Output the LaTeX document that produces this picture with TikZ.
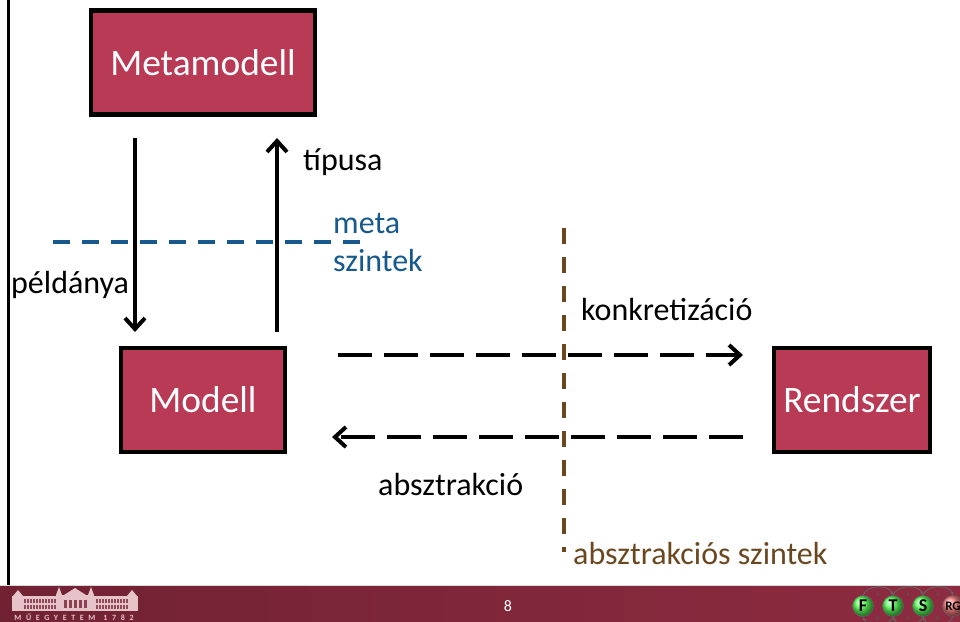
\documentclass[tikz,border=0pt]{standalone}
\usepackage{fontspec}
\setmainfont{Carlito}
\usetikzlibrary{arrows.meta}
\definecolor{boxred}{HTML}{B83A55}
\definecolor{barleft}{HTML}{702233}
\definecolor{barright}{HTML}{8E2B41}
\definecolor{levelblue}{HTML}{17598C}
\definecolor{levelbrown}{HTML}{6B4720}
\definecolor{logopink}{HTML}{E6C3C8}
\tikzset{
  levelbox/.style={draw=black, line width=4.5pt, fill=boxred, text=white, font=\fontsize{37.4}{37.4}\selectfont, inner sep=0pt},
  lbl/.style={font=\fontsize{32}{32}\selectfont, inner sep=0pt},
  solidarrow/.style={line width=4pt, -{Straight Barb[length=11pt,width=20pt,line width=4pt]}},
  dasharrow/.style={solidarrow, dash pattern=on 34pt off 12pt},
  levelline/.style={line width=4.5pt},
  ball/.style={circle, draw=black!60, line width=.5pt, minimum size=21pt, inner sep=0pt, font=\bfseries\fontsize{18}{18}\selectfont, text=black},
  chainarc/.style={draw=black!60, line width=.8pt, -{Stealth[length=4pt]}},
  tinylbl/.style={text=black!65, inner sep=0pt, font=\fontsize{7}{7}\selectfont},
}
\begin{document}
\begin{tikzpicture}[x=1pt, y=-1pt]
  \useasboundingbox (0, 0) rectangle (960, 621);
  % footer
  \shade[left color=barleft, right color=barright] (0, 585) rectangle (960, 621);
  \draw[black!15, line width=1pt] (0, 585) -- (960, 585);
  \draw[black, line width=3pt] (8, 0) -- (8, 585);
  % logo
  \fill[logopink] (12, 596) rectangle (138, 611);
  \fill[logopink] (56, 595) rectangle (94, 611);
  \fill[logopink] (13, 596) -- (18, 590) -- (23, 596) -- cycle;
  \fill[logopink] (127, 596) -- (132, 590) -- (137, 596) -- cycle;
  \fill[logopink] (56, 595) -- (59, 587) -- (62, 595) -- cycle;
  \fill[logopink] (64, 595) -- (75, 588) -- (86, 595) -- cycle;
  \fill[logopink] (88, 595) -- (91, 587) -- (94, 595) -- cycle;
  \foreach \y in {599, 605} {
    \foreach \x in {24, 27, ..., 54, 96, 99, ..., 126} {
      \fill[barleft!75!logopink] (\x, \y) rectangle +(1.6, 3.5);
    }
  }
  \foreach \x in {64, 69, ..., 85} {
    \fill[barleft!80!logopink] (\x, 600) rectangle +(2.6, 8);
  }
  \node (logotext) at (74, 617) [text=logopink, inner sep=0pt, font=\bfseries\fontsize{8}{8}\selectfont] {\addfontfeature{LetterSpace=58}MŰEGYETEM\quad 1782};
  \node (pagenum) at (508, 606) [text=white, inner sep=0pt, font=\fontsize{16}{16}\selectfont] {8};
  % research group badges
  \foreach [count=\i] \x/\t in {863/F, 893/T, 923/S} {
    \node[ball, ball color=green!65!white] (badge\i) at (\x, 606) {\t};
  }
  \node[ball, ball color=red!50!white, font=\bfseries\fontsize{13}{13}\selectfont] (badgerg) at (953, 606) {RG};
  \foreach \a/\b/\x in {badge1/badge2/878, badge2/badge3/908, badge3/badgerg/938} {
    \draw[chainarc] (\a.north) to[bend left=70] (\b.north);
    \draw[chainarc] (\b.south) to[bend left=70] (\a.south);
    \node[tinylbl] at (\x, 594) {λ};
    \node[tinylbl] at (\x, 618) {μ};
  }
  % boxes
  \node[levelbox, minimum width=224pt, minimum height=104pt] (metamodell) at (203, 62.5) {Metamodell};
  \node[levelbox, minimum width=164pt, minimum height=104pt] (modell) at (203, 400) {Modell};
  \node[levelbox, minimum width=156pt, minimum height=104pt] (rendszer) at (852, 400) {Rendszer};
  % connector ends
  \coordinate (metadownstart) at (135, 138);
  \coordinate (metadownend) at (135, 332);
  \coordinate (typeupstart) at (277, 332);
  \coordinate (typeupend) at (277, 138);
  \coordinate (concretestart) at (338, 355);
  \coordinate (concreteend) at (743, 355);
  \coordinate (abstractstart) at (743, 437);
  \coordinate (abstractend) at (332, 437);
  \coordinate (metalevela) at (53, 242);
  \coordinate (metalevelb) at (362, 242);
  \coordinate (abstrlevela) at (564, 228);
  \coordinate (abstrlevelb) at (564, 552);
  \draw[levelline, levelblue, dash pattern=on 17pt off 12pt] (metalevela) -- (metalevelb);
  \draw[solidarrow] (metadownstart) -- (metadownend);
  \draw[solidarrow] (typeupstart) -- (typeupend);
  \draw[dasharrow] (concretestart) -- (concreteend);
  \draw[dasharrow] (abstractstart) -- (abstractend);
  \draw[levelline, levelbrown, dash pattern=on 16pt off 13pt] (abstrlevela) -- (abstrlevelb);
  % labels
  \node[lbl, anchor=base west] (tipusa) at (303, 170) {típusa};
  \node[lbl, anchor=base west, text=levelblue] (metatext) at (333, 233) {meta};
  \node[lbl, anchor=base west, text=levelblue] (szintektext) at (333, 271) {szintek};
  \node[lbl, anchor=base west] (peldanya) at (11, 293) {példánya};
  \node[lbl, anchor=base west] (konkret) at (581, 320) {konkretizáció};
  \node[lbl, anchor=base west] (abszt) at (378, 495) {absztrakció};
  \node[lbl, anchor=base west, text=levelbrown] (absztszint) at (573, 564) {absztrakciós szintek};
\end{tikzpicture}
\end{document}
